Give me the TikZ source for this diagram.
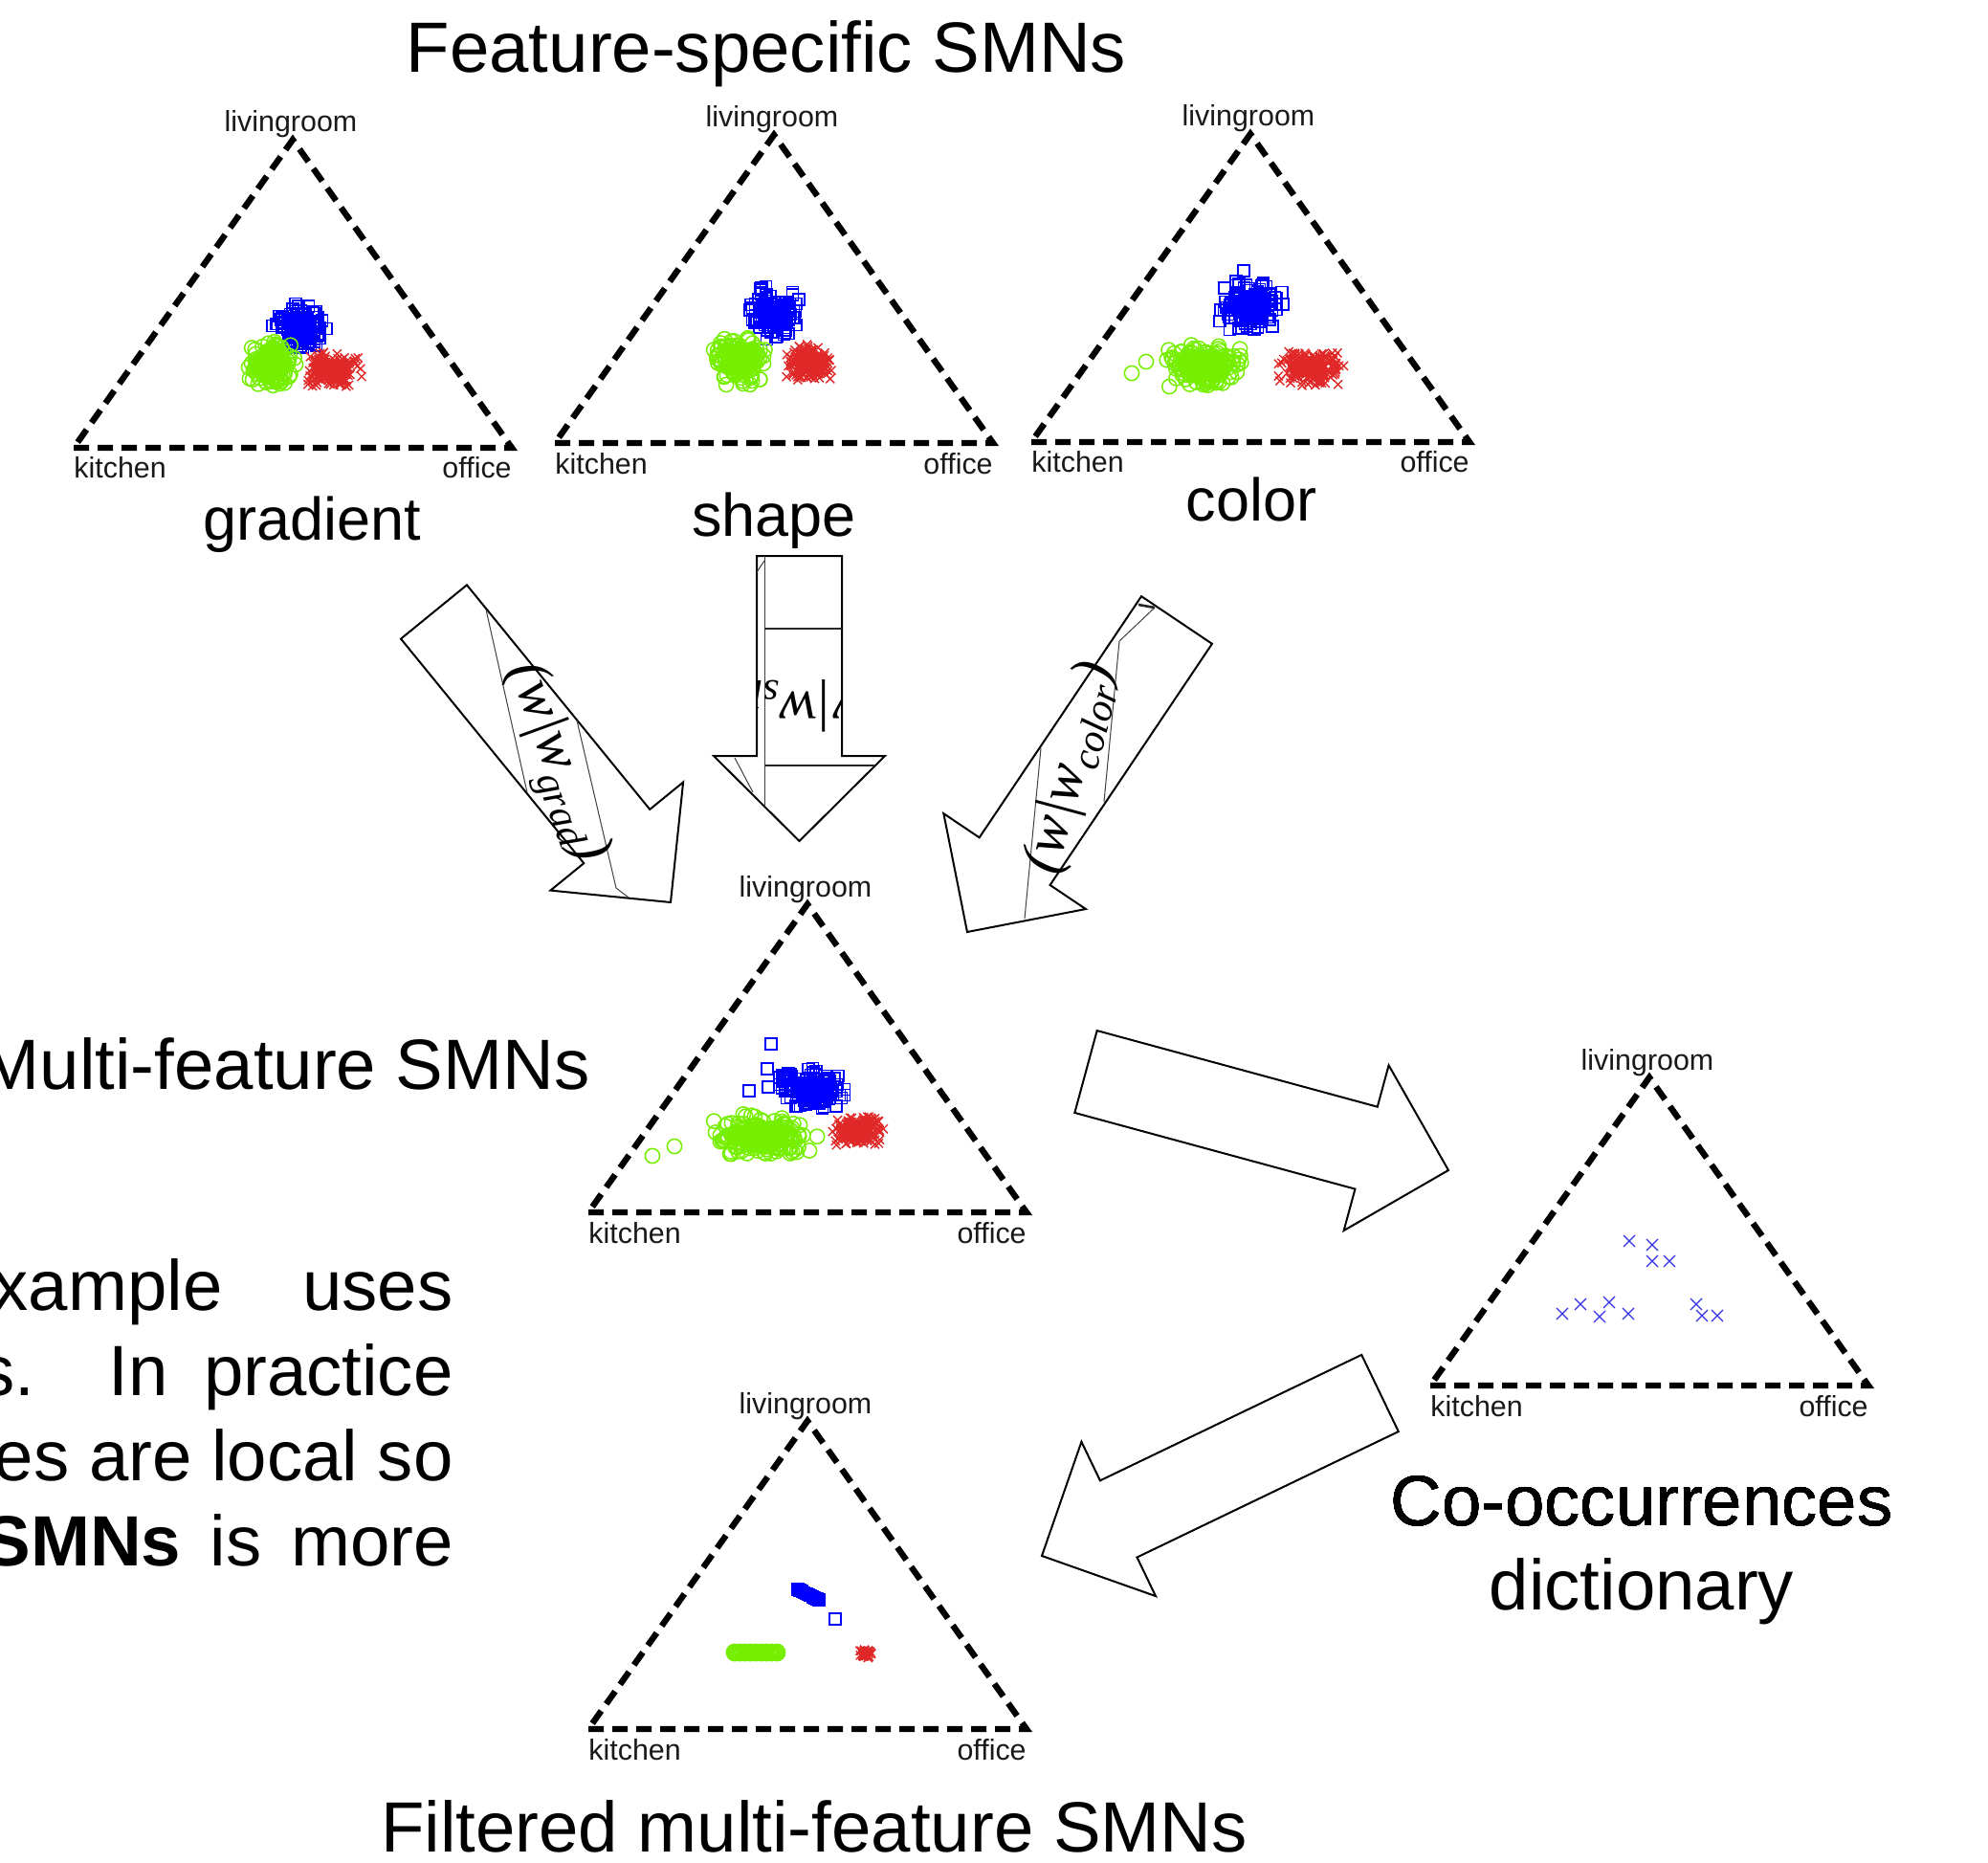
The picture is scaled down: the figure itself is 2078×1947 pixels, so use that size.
\documentclass[tikz,border=0pt]{standalone}
\usepackage{fontspec}
\setmainfont{Liberation Sans}
\newfontfamily\arrowfont{Liberation Serif}
\usetikzlibrary{calc}

\definecolor{ptblue}{RGB}{0,0,255}
\definecolor{ptgreen}{RGB}{118,238,0}
\definecolor{ptred}{RGB}{225,40,40}
\definecolor{coblue}{RGB}{50,50,230}

% ternary frame: name, x and y of the kitchen corner
\newcommand\ternary[3]{%
  \coordinate (#1-k) at (#2,#3);
  \coordinate (#1-o) at ({#2+458},#3);
  \coordinate (#1-l) at ({#2+229},{#3-322});
  \draw[tri] (#1-k) -- (#1-o) -- (#1-l) -- cycle;
  \node[corner, anchor=base] (#1-lv) at ($(#1-l)+(-2,-8)$) {livingroom};
  \node[corner, anchor=base west] (#1-kt) at ($(#1-k)+(0,32)$) {kitchen};
  \node[corner, anchor=base east] (#1-of) at ($(#1-o)+(0,32)$) {office};
}

% block arrow: name, tail, tip
\newcommand\blockarrow[3]{%
  \coordinate (#1-t) at #2;
  \coordinate (#1-p) at #3;
  \coordinate (#1-h) at ($(#1-p)!44.5pt!(#1-t)$);
  \draw[barrow] ($(#1-t)!22.25pt!-90:(#1-p)$) -- ($(#1-h)!22.25pt!90:(#1-t)$)
    -- ($(#1-h)!44.75pt!90:(#1-t)$) -- (#1-p)
    -- ($(#1-h)!44.75pt!-90:(#1-t)$) -- ($(#1-h)!22.25pt!-90:(#1-t)$)
    -- ($(#1-t)!22.25pt!90:(#1-p)$) -- cycle;
}

% point cloud: cx, cy, rx, ry, count, mark
\newcommand\cloud[6]{%
  \foreach \k in {1,...,#5}{%
    \pgfmathsetmacro\px{#1+#3*(rand+rand)/2}%
    \pgfmathsetmacro\py{#2+#4*(rand+rand)/2}%
    #6}}
\newcommand\blusq{\draw[bpt] (\px-6,\py-6) rectangle (\px+6,\py+6);}
\newcommand\grnci{\draw[gpt] (\px,\py) circle[radius=3.8pt];}
\newcommand\redx{\draw[rpt] (\px-4.5,\py-4.5) -- (\px+4.5,\py+4.5) (\px-4.5,\py+4.5) -- (\px+4.5,\py-4.5);}
\newcommand\coox[2]{\draw[cpt] (#1-6,#2-6) -- (#1+6,#2+6) (#1-6,#2+6) -- (#1+6,#2-6);}

\begin{document}
\begin{tikzpicture}[
  x=0.5pt, y=-0.5pt,
  tri/.style={line width=3.2pt, dash pattern=on 8pt off 4.5pt},
  corner/.style={inner sep=0pt, font=\fontsize{15.2}{18}\selectfont, text=black!90},
  big/.style={inner sep=0pt, font=\fontsize{37.2}{44}\selectfont},
  feat/.style={inner sep=0pt, font=\fontsize{31.5}{38}\selectfont},
  barrow/.style={draw=black, fill=white, line width=1pt, line join=miter},
  boxline/.style={draw=black!75, line width=0.5pt},
  boxedge/.style={draw=black!85, line width=1.3pt},
  wlabel/.style={inner sep=0pt, font=\arrowfont\fontsize{30}{36}\selectfont\itshape},
  bpt/.style={draw=ptblue, line width=0.75pt},
  gpt/.style={draw=ptgreen, line width=0.75pt},
  rpt/.style={draw=ptred, line width=0.7pt},
  cpt/.style={draw=coblue, line width=0.6pt},
]

\useasboundingbox (0,0) rectangle (2078,1947);
\fill[white] (0,0) rectangle (2078,1947);
\clip (0,0) rectangle (2078,1947);
\pgfmathsetseed{2024}

% ── Feature-specific SMNs ──
\node[big, anchor=base] (title) at (801,76) {Feature-specific SMNs};

\ternary{grd}{77}{468}
\cloud{313}{341}{30}{25}{110}{\blusq}
\cloud{313}{343}{14}{12}{60}{\blusq}
\cloud{284}{379}{28}{28}{120}{\grnci}
\cloud{284}{379}{14}{14}{60}{\grnci}
\cloud{350}{387}{32}{21}{160}{\redx}
\cloud{347}{387}{16}{11}{80}{\redx}
\node[feat, anchor=base] (fgrad) at (326,565) {gradient};

\ternary{shp}{580}{463}
\cloud{810}{330}{28}{26}{110}{\blusq}
\cloud{810}{332}{14}{13}{60}{\blusq}
\cloud{797}{302}{6}{8}{6}{\blusq}
\cloud{772}{377}{30}{26}{120}{\grnci}
\cloud{774}{377}{15}{13}{60}{\grnci}
\cloud{846}{378}{26}{21}{160}{\redx}
\cloud{846}{378}{13}{10}{80}{\redx}
\node[feat, anchor=base] (fshape) at (809,560) {shape};

\ternary{col}{1078}{462}
\cloud{1306}{320}{38}{29}{120}{\blusq}
\cloud{1306}{320}{18}{14}{60}{\blusq}
\draw[bpt] (1294,277) rectangle (1306,289);
\cloud{1259}{382}{44}{25}{140}{\grnci}
\cloud{1259}{382}{22}{12}{70}{\grnci}
\draw[gpt] (1183,390) circle[radius=3.8pt] (1198,378) circle[radius=3.8pt];
\cloud{1370}{385}{36}{21}{160}{\redx}
\cloud{1368}{385}{16}{10}{80}{\redx}
\node[feat, anchor=base] (fcolor) at (1308,545) {color};

% ── Multi-feature SMNs ──
\ternary{mul}{615}{1267}
\cloud{851}{1138}{34}{23}{120}{\blusq}
\cloud{856}{1142}{16}{11}{60}{\blusq}
\cloud{818}{1128}{12}{12}{10}{\blusq}
\foreach \sx/\sy in {806/1091, 783/1140, 802/1117, 803/1136}
  \draw[bpt] (\sx-6,\sy-6) rectangle (\sx+6,\sy+6);
\cloud{795}{1186}{60}{23}{170}{\grnci}
\cloud{795}{1186}{30}{11}{80}{\grnci}
\draw[gpt] (682,1208) circle[radius=3.8pt] (705,1198) circle[radius=3.8pt];
\cloud{897}{1181}{28}{18}{150}{\redx}
\cloud{897}{1181}{13}{9}{70}{\redx}
\node[big, anchor=base east] (multi) at (617,1138) {Multi-feature SMNs};

% ── Co-occurrences dictionary ──
\ternary{coo}{1495}{1448}
\foreach \cx/\cy in {1703/1297, 1727/1301, 1727/1318, 1745/1318,
    1633/1373, 1652/1363, 1672/1376, 1682/1361, 1702/1373,
    1773/1363, 1779/1375, 1795/1375}
  \coox{\cx}{\cy}
\node[big, anchor=base] (cooc) at (1716,1594) {Co-occurrences};
\node[big, anchor=base] (dict) at (1716,1682) {dictionary};

% ── Filtered multi-feature SMNs ──
\ternary{flt}{615}{1807}
\foreach \t in {0,...,10}
  \draw[bpt, line width=1.8pt] ({834+\t*2.2-5},{1661+\t*1.1-5}) rectangle ++(10,10);
\draw[bpt] (867,1686) rectangle (879,1698);
\foreach \t in {0,...,8}
  \draw[gpt, line width=2.6pt] ({768+\t*5.5},1727) circle[radius=3.4pt];
\cloud{905}{1728}{8}{6}{30}{\redx}
\node[big, anchor=base] (filt) at (851,1935) {Filtered multi-feature SMNs};

% ── paragraph (cut at the left edge) ──
\node[big, anchor=base east] (p1) at (474,1369) {\makebox[240.5pt][s]{xample uses}};
\node[big, anchor=base east] (p2) at (474,1458) {\makebox[247.5pt][s]{s. In practice}};
\node[big, anchor=base east] (p3) at (474,1547) {es are local so};
\node[big, anchor=base east] (p4) at (474,1636) {\makebox[245.5pt][s]{\textbf{SMNs} is more}};

% ── block arrows ──
\blockarrow{ga}{(453.5,639.5)}{(701,943)}
\blockarrow{sa}{(835.5,581)}{(835.5,879)}
\blockarrow{ca}{(1230,648)}{(1011,974)}
\blockarrow{ma}{(1135,1120)}{(1514,1223)}
\blockarrow{fa}{(1442.5,1456)}{(1089,1626)}

% text boxes inside the three upper arrows
\draw[boxline] (508,637) -- (551,828);
\draw[boxline] (603,753) -- (644,928) -- (657,938);
\node[wlabel, rotate=-70] (wgrad) at (579,798) {(w|w\textsubscript{grad})};

\begin{scope}
  \clip (791,581) -- (880,581) -- (880,790) -- (924,790) -- (835.5,879) -- (746,790) -- (791,790) -- cycle;
  \draw[boxline] (799,581) -- (799,843);
  \draw[boxline] (791,598) -- (799,586);
  \draw[boxline] (768,792) -- (787,828);
  \draw[boxedge] (799,657) -- (880,657);
  \draw[boxedge] (799,800) -- (915,800);
  \node[wlabel, rotate=180] (wshape) at (813,734) {(w|w\textsubscript{shape})};
\end{scope}

\draw[boxline] (1088,782) -- (1071,960);
\draw[boxline] (1207,635) -- (1170,670) -- (1154,838);
\draw[boxedge] (1190,632) -- (1207,635);
\node[wlabel, rotate=75] (wcolor) at (1120,803) {(w|w\textsubscript{color})};

\end{tikzpicture}
\end{document}
